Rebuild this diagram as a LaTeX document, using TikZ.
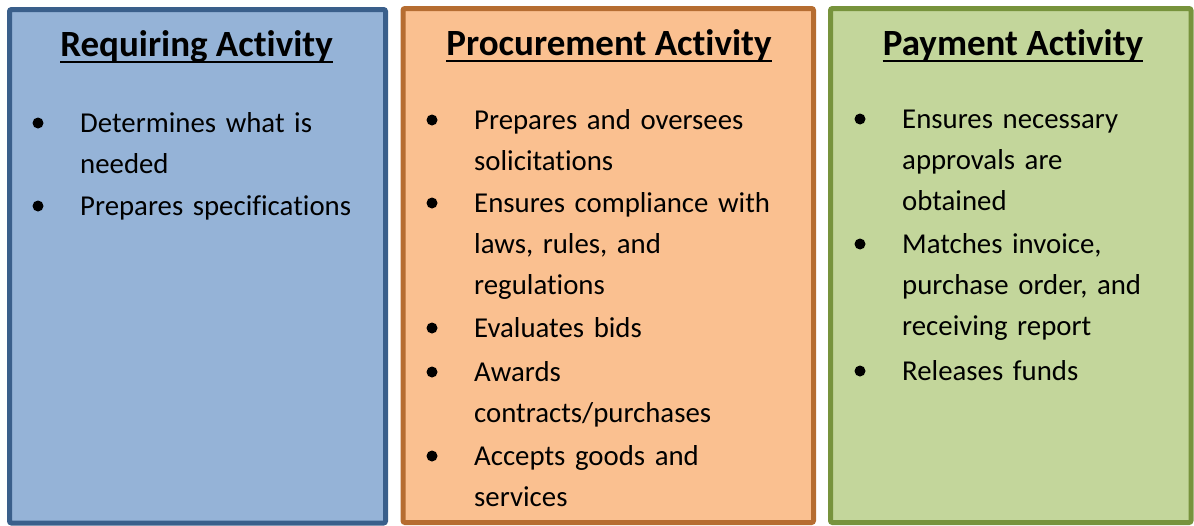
\documentclass[tikz,border=0pt]{standalone}
\usepackage{fontspec}
\setmainfont{Carlito}[Ligatures={NoCommon,NoRare}]
\definecolor{reqfill}{HTML}{95B3D7}
\definecolor{reqline}{HTML}{3A5F8B}
\definecolor{profill}{HTML}{FAC090}
\definecolor{proline}{HTML}{B66D31}
\definecolor{payfill}{HTML}{C3D69B}
\definecolor{payline}{HTML}{77933C}
\begin{document}
\begin{tikzpicture}[x=1pt,y=-1pt,
  panel/.style={line width=5pt, rounded corners=2pt},
  heading/.style={font=\bfseries\fontsize{37}{44}\selectfont, inner sep=0pt, anchor=base},
  entry/.style={font=\fontsize{28.8}{41}\selectfont, inner sep=0pt, anchor=base west,
                text width=340pt, align=left},
  dot/.style={fill=black}
]
\useasboundingbox (0,0) rectangle (1194,525);

% three activity panels
\draw[panel, draw=reqline, fill=reqfill] (9.5,9.5) rectangle (385.5,523);
\draw[panel, draw=proline, fill=profill] (403,8.5) rectangle (813.5,522.5);
\draw[panel, draw=payline, fill=payfill] (830.5,8.5) rectangle (1191,522.5);

% headings, underlined
\node[heading] (h1) at (196.5,56) {Requiring Activity};
\node[heading] (h2) at (609,55) {Procurement Activity};
\node[heading] (h3) at (1013,55) {Payment Activity};
\foreach \h in {h1,h2,h3}
  \draw[line width=2pt] ([yshift=-5.5pt]\h.base west) -- ([yshift=-5.5pt]\h.base east);

% requiring activity
\node[entry] (r1) at (80,132) {Determines what is\\needed};
\node[entry] (r2) at (80,215) {Prepares specifications};

% procurement activity
\node[entry] (p1) at (474,129) {Prepares and oversees\\solicitations};
\node[entry] (p2) at (474,212) {Ensures compliance with\\laws, rules, and\\regulations};
\node[entry] (p3) at (474,337) {Evaluates bids};
\node[entry] (p4) at (474,381) {Awards\\contracts/purchases};
\node[entry] (p5) at (474,465) {Accepts goods and\\services};

% payment activity
\node[entry] (q1) at (902,128) {Ensures necessary\\approvals are\\obtained};
\node[entry] (q2) at (902,253) {Matches invoice,\\purchase order, and\\receiving report};
\node[entry] (q3) at (902,380) {Releases funds};

% bullets
\foreach \e in {r1,r2,p1,p2,p3,p4,p5,q1,q2,q3}
  \fill[dot] ([shift={(-42,-9)}]\e.base west) circle (5.5);
\end{tikzpicture}
\end{document}
